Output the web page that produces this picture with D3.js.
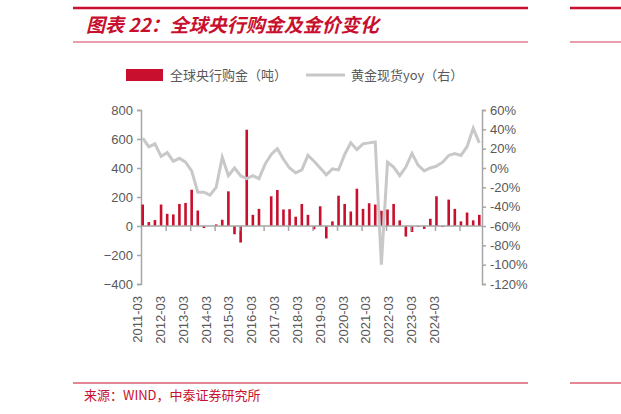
<!DOCTYPE html><html><head><meta charset="utf-8">
<script src="https://cdn.jsdelivr.net/npm/d3@7"></script>
<style>body{margin:0;background:#fff}</style></head><body><svg id="c" width="621" height="414"></svg>
<script>
const quarters=[];for(let yr=2011;yr<=2024;yr++)for(const m of["03","06","09","12"])quarters.push(yr+"-"+m);
const purchases=[148,27,41,148,84,80,152,159,250,107,-14,0,11,43,239,-57,-114,664,77,118,0,205,248,114,116,64,152,77,-23,136,-86,32,209,152,100,257,118,157,148,105,114,152,39,-73,-41,-5,-20,50,205,-7,182,118,32,93,39,77];
const goldYoy=[31,22,25,12,16,7,10,6,-3,-25,-25,-28,-20,11,-8,0,-8,-11,-8,-11,4,14,20,9,0,-5,-2,13,7,0,-7,-1,-2,14,26,19,25,26,27,-100,6,1,-8,1,15,3,-3,0,2,6,13,15,13,22,41,26];
const tickLabels=["2011-03","2012-03","2013-03","2014-03","2015-03","2016-03","2017-03","2018-03","2019-03","2020-03","2021-03","2022-03","2023-03","2024-03"];
const leftTicks=[-400,-200,0,200,400,600,800],rightTicks=[-120,-100,-80,-60,-40,-20,0,20,40,60];
const svg=d3.select("#c"),red="#c8102e",txt="#595959",ax="#a6a6a6",F="'Liberation Sans',Arial,sans-serif";
svg.append("line").attr("x1",73).attr("x2",528).attr("y1",8).attr("y2",8).attr("stroke",red).attr("stroke-width",2.5);
svg.append("line").attr("x1",73).attr("x2",528).attr("y1",42).attr("y2",42).attr("stroke",red).attr("stroke-width",1).attr("opacity",.8);
svg.append("line").attr("x1",570).attr("x2",621).attr("y1",8).attr("y2",8).attr("stroke",red).attr("stroke-width",2.5);
svg.append("line").attr("x1",570).attr("x2",621).attr("y1",42).attr("y2",42).attr("stroke",red).attr("stroke-width",1).attr("opacity",.8);
svg.append("text").attr("x",86).attr("y",32).attr("fill",red).attr("font-size",19).attr("font-weight","bold").attr("font-style","italic").attr("font-family","'Noto Sans CJK SC'").text("图表 22：全球央行购金及金价变化");
svg.append("rect").attr("x",126).attr("y",69).attr("width",37).attr("height",12).attr("fill",red);
svg.append("text").attr("x",170).attr("y",80).attr("font-size",13).attr("fill",txt).attr("font-family","'Noto Sans CJK SC'").text("全球央行购金（吨）");
svg.append("line").attr("x1",306).attr("x2",345).attr("y1",75).attr("y2",75).attr("stroke","#c8c8c8").attr("stroke-width",3);
svg.append("text").attr("x",351).attr("y",80).attr("font-size",13).attr("fill",txt).attr("font-family","'Noto Sans CJK SC'").text("黄金现货yoy（右）");
const xi=d3.scaleLinear().domain([0,quarters.length-1]).range([142.7,479.3]);
const yL=d3.scaleLinear().domain([-400,800]).range([284,110]);
const yR=d3.scaleLinear().domain([-120,60]).range([284,110]);
const g=svg.append("g");
const la=g.append("g").attr("transform","translate(141,0)").call(d3.axisLeft(yL).tickValues(leftTicks).tickSize(4).tickPadding(4));
const ra=g.append("g").attr("transform","translate(482,0)").call(d3.axisRight(yR).tickValues(rightTicks).tickSize(4).tickPadding(4).tickFormat(d=>d+"%"));
[la,ra].forEach(a=>{a.selectAll("path,line").attr("stroke",ax).attr("stroke-width",1.5);a.selectAll("text").attr("fill",txt).attr("font-size",13).attr("font-family",F);});
g.selectAll("rect.b").data(purchases).enter().append("rect").attr("class","b").attr("fill",red)
 .attr("x",(d,i)=>xi(i)-1.3).attr("width",2.6)
 .attr("y",d=>yL(Math.max(0,d))).attr("height",d=>Math.abs(yL(d)-yL(0)));
g.append("line").attr("x1",141).attr("x2",482).attr("y1",yL(0)).attr("y2",yL(0)).attr("stroke",ax).attr("stroke-width",1.5);
const tickIdx=quarters.map((q,i)=>i).filter(i=>i%4==0&&i>0);
g.selectAll("line.t").data(tickIdx).enter().append("line").attr("class","t")
 .attr("x1",i=>xi(i)-1).attr("x2",i=>xi(i)-1).attr("y1",yL(0)).attr("y2",yL(0)+5).attr("stroke",ax).attr("stroke-width",1.5);
g.append("path").datum(goldYoy).attr("fill","none").attr("stroke","#c8c8c8").attr("stroke-width",3)
 .attr("d",d3.line().x((d,i)=>xi(i)).y(d=>yR(d)));
const xl=d3.scaleLinear().domain([0,tickLabels.length-1]).range([137,434]);
g.selectAll("text.xl").data(tickLabels).enter().append("text").attr("class","xl")
 .attr("transform",(d,i)=>`translate(${xl(i)+5},296) rotate(-90)`)
 .attr("text-anchor","end").attr("fill",txt).attr("font-size",13).attr("font-family",F).text(d=>d);
svg.append("line").attr("x1",73).attr("x2",528).attr("y1",383).attr("y2",383).attr("stroke",red).attr("stroke-width",1.2);
svg.append("line").attr("x1",570).attr("x2",621).attr("y1",383).attr("y2",383).attr("stroke",red).attr("stroke-width",1.2);
svg.append("text").attr("x",84).attr("y",400).attr("fill",red).attr("font-size",13).attr("font-family","'Noto Sans CJK SC'").text("来源：WIND，中泰证券研究所");
</script></body></html>
